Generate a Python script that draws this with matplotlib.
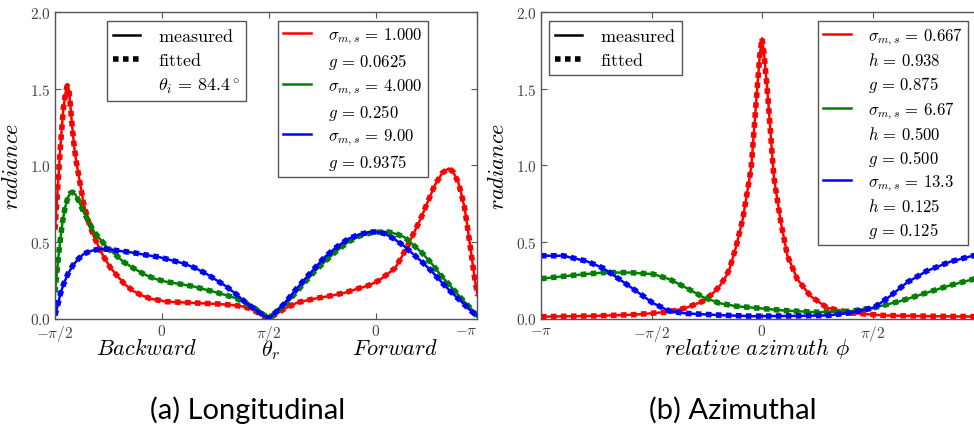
import numpy as np
import matplotlib
matplotlib.use("Agg")
import matplotlib.pyplot as plt
from matplotlib.lines import Line2D

plt.rcParams['mathtext.fontset'] = 'cm'
plt.rcParams['font.family'] = ['DejaVu Serif']

# ---------------- data (x in units of pi/2) ----------------
# Longitudinal: 0 -> -pi/2, 1 -> 0 (backward), 2 -> pi/2, 3 -> 0 (forward), 3.95 -> -pi
long_red_x = [0.00, 0.03, 0.05, 0.078, 0.10, 0.115, 0.13, 0.14, 0.16, 0.18, 0.20, 0.235, 0.265, 0.31, 0.36,
              0.45, 0.52, 0.58, 0.65, 0.73, 0.80, 0.89, 1.04, 1.20, 1.36, 1.52, 1.67, 1.76, 1.82, 1.88, 1.95,
              2.00, 2.08, 2.15, 2.27, 2.43, 2.59, 2.72, 2.83, 2.93, 3.02, 3.10, 3.18, 3.24, 3.30, 3.37, 3.43,
              3.49, 3.55, 3.62, 3.68, 3.72, 3.77, 3.80, 3.83, 3.86, 3.89, 3.92, 3.95]
long_red_y = [0.58, 0.90, 1.12, 1.37, 1.48, 1.52, 1.49, 1.42, 1.26, 1.12, 1.02, 0.88, 0.76, 0.64, 0.54,
              0.41, 0.33, 0.28, 0.225, 0.18, 0.155, 0.13, 0.11, 0.105, 0.10, 0.095, 0.087, 0.078, 0.065, 0.045, 0.015,
              0.00, 0.035, 0.065, 0.105, 0.13, 0.15, 0.17, 0.195, 0.215, 0.245, 0.285, 0.33, 0.40, 0.48, 0.58, 0.67,
              0.77, 0.87, 0.95, 0.98, 0.96, 0.89, 0.81, 0.72, 0.58, 0.43, 0.28, 0.15]

long_green_x = [0.00, 0.02, 0.047, 0.07, 0.093, 0.12, 0.145, 0.165, 0.19, 0.22, 0.265, 0.31, 0.36, 0.42, 0.48,
                0.56, 0.64, 0.73, 0.83, 0.93, 1.04, 1.17, 1.29, 1.40, 1.51, 1.61, 1.70, 1.78, 1.85, 1.92,
                2.00, 2.07, 2.15, 2.24, 2.34, 2.43, 2.52, 2.63, 2.74, 2.85, 2.96, 3.05, 3.12, 3.20, 3.27, 3.35,
                3.43, 3.52, 3.61, 3.70, 3.80, 3.88, 3.95]
long_green_y = [0.17, 0.32, 0.50, 0.63, 0.72, 0.79, 0.82, 0.825, 0.81, 0.77, 0.70, 0.64, 0.57, 0.52, 0.47,
                0.42, 0.37, 0.33, 0.29, 0.26, 0.24, 0.225, 0.21, 0.19, 0.17, 0.15, 0.13, 0.10, 0.075, 0.04,
                0.00, 0.04, 0.09, 0.16, 0.24, 0.31, 0.37, 0.44, 0.50, 0.54, 0.56, 0.565, 0.565, 0.55, 0.53, 0.48,
                0.43, 0.36, 0.28, 0.21, 0.13, 0.07, 0.01]

long_blue_x = [0.00, 0.03, 0.05, 0.078, 0.12, 0.17, 0.22, 0.265, 0.33, 0.39, 0.45, 0.51, 0.62, 0.73, 0.85,
               0.98, 1.09, 1.20, 1.31, 1.42, 1.51, 1.60, 1.70, 1.79, 1.87, 1.95,
               2.00, 2.07, 2.15, 2.24, 2.34, 2.43, 2.52, 2.63, 2.74, 2.85, 2.95, 3.02, 3.08, 3.17, 3.27, 3.35,
               3.43, 3.52, 3.61, 3.70, 3.80, 3.88, 3.95]
long_blue_y = [0.02, 0.10, 0.16, 0.22, 0.29, 0.35, 0.39, 0.42, 0.44, 0.45, 0.455, 0.45, 0.44, 0.43, 0.415,
               0.40, 0.38, 0.36, 0.33, 0.29, 0.25, 0.21, 0.155, 0.10, 0.06, 0.02,
               0.00, 0.045, 0.10, 0.18, 0.26, 0.33, 0.40, 0.465, 0.52, 0.55, 0.565, 0.565, 0.555, 0.52, 0.47, 0.42,
               0.37, 0.31, 0.24, 0.175, 0.11, 0.055, 0.015]

# Azimuthal: -2 -> -pi ... 2 -> pi
azi_red_x = [-2.0, -1.5, -1.135, -0.835, -0.685, -0.534, -0.45, -0.385, -0.33, -0.295, -0.234, -0.174, -0.114,
             -0.096, -0.05, -0.02, 0.0, 0.02, 0.054, 0.099, 0.11, 0.17, 0.23, 0.32, 0.44, 0.59, 0.80, 1.10, 1.5, 2.0]
azi_red_y = [0.012, 0.017, 0.026, 0.044, 0.07, 0.113, 0.16, 0.21, 0.27, 0.32, 0.47, 0.65, 0.91,
             1.0, 1.44, 1.72, 1.83, 1.72, 1.44, 1.0, 0.91, 0.63, 0.41, 0.256, 0.146, 0.07, 0.037, 0.02, 0.015, 0.012]

azi_green_x = [-2.0, -1.74, -1.44, -1.2, -0.985, -0.835, -0.685, -0.534, -0.385, -0.234, -0.07, 0.2, 0.5, 0.8,
               1.01, 1.25, 1.49, 1.70, 1.91, 2.0]
azi_green_y = [0.26, 0.28, 0.30, 0.30, 0.29, 0.256, 0.20, 0.14, 0.10, 0.08, 0.07, 0.052, 0.041, 0.048,
               0.07, 0.113, 0.168, 0.216, 0.256, 0.27]

azi_blue_x = [-2.0, -1.80, -1.59, -1.44, -1.29, -1.14, -0.985, -0.835, -0.685, -0.385, -0.084, 0.3, 0.6, 0.80,
              1.01, 1.16, 1.31, 1.49, 1.70, 1.91, 2.0]
azi_blue_y = [0.41, 0.41, 0.375, 0.33, 0.256, 0.18, 0.10, 0.048, 0.033, 0.022, 0.015, 0.017, 0.02, 0.037,
              0.07, 0.146, 0.234, 0.31, 0.37, 0.41, 0.42]

long_ticks = [0, 1, 2, 3, 3.95]
long_ticklabels = [r'$-\pi/2$', r'$0$', r'$\pi/2$', r'$0$', r'$-\pi$']
azi_ticks = [-2, -1, 0, 1, 2]
azi_ticklabels = [r'$-\pi$', r'$-\pi/2$', r'$0$', r'$\pi/2$', r'$\pi$']
y_ticks = [0.0, 0.5, 1.0, 1.5, 2.0]
y_ticklabels = [r'$0.0$', r'$0.5$', r'$1.0$', r'$1.5$', r'$2.0$']

long_labels = [r'$\sigma_{m,s}\,=\,1.000$', r'$g\,=\,0.0625$', r'$\sigma_{m,s}\,=\,4.000$', r'$g\,=\,0.250$',
               r'$\sigma_{m,s}\,=\,9.00$', r'$g\,=\,0.9375$']
azi_labels = [r'$\sigma_{m,s}\,=\,0.667$', r'$h\,=\,0.938$', r'$g\,=\,0.875$',
              r'$\sigma_{m,s}\,=\,6.67$', r'$h\,=\,0.500$', r'$g\,=\,0.500$',
              r'$\sigma_{m,s}\,=\,13.3$', r'$h\,=\,0.125$', r'$g\,=\,0.125$']

RED, GREEN, BLUE = '#ff0000', '#008000', '#0000ff'
EDGE = '#555555'
DOT = (0, (1.0, 0.8))

W, H = 974, 439
fig = plt.figure(figsize=(W / 100, H / 100), dpi=100)

def px_box(l, r, t, b):
    return [l / W, 1 - b / H, (r - l) / W, (b - t) / H]

ax1 = fig.add_axes(px_box(55, 477.5, 13.3, 319.5))
ax2 = fig.add_axes(px_box(541, 983, 13.3, 319.5))

hp = np.pi / 2
def draw(ax, x, y, c):
    xx = np.asarray(x) * hp
    ax.plot(xx, y, color=c, lw=4.0, linestyle=DOT, dash_capstyle='butt')
    ax.plot(xx, y, color=c, lw=1.8)

for x, y, c in [(long_red_x, long_red_y, RED), (long_green_x, long_green_y, GREEN), (long_blue_x, long_blue_y, BLUE)]:
    draw(ax1, x, y, c)
for x, y, c in [(azi_red_x, azi_red_y, RED), (azi_green_x, azi_green_y, GREEN), (azi_blue_x, azi_blue_y, BLUE)]:
    draw(ax2, x, y, c)

def style(ax, ticks, labels, xlim):
    ax.set_xlim(xlim[0] * hp, xlim[1] * hp)
    ax.set_ylim(0, 2.0)
    ax.set_xticks(np.asarray(ticks) * hp)
    ax.set_xticklabels(labels)
    ax.set_yticks(y_ticks)
    ax.set_yticklabels(y_ticklabels)
    ax.tick_params(direction='in', top=True, right=True, length=4, width=0.8, color=EDGE,
                   labelcolor='#444444', labelsize=11, pad=3)
    for s in ax.spines.values():
        s.set_color(EDGE)
        s.set_linewidth(1.0)
    ax.set_ylabel(r'$radiance$', fontsize=16, labelpad=5)

style(ax1, long_ticks, long_ticklabels, (0, 3.95))
style(ax2, azi_ticks, azi_ticklabels, (-2, 2))
ax1.get_xticklabels()[-1].set_ha('right')

# legends
meas = Line2D([], [], color='black', lw=1.8)
fitd = Line2D([], [], color='black', lw=4.0, linestyle=DOT)
blank = Line2D([], [], linestyle='none')
def col(c):
    return Line2D([], [], color=c, lw=1.8)

kw_a = dict(loc='upper left', borderaxespad=0, fancybox=False, framealpha=1, fontsize=13,
            handlelength=1.5, handletextpad=1.0, borderpad=0.33, labelspacing=0.36, edgecolor=EDGE)
kw_b = dict(loc='upper left', borderaxespad=0, fancybox=False, framealpha=1, fontsize=12,
            handlelength=1.65, handletextpad=1.05, borderpad=0.3, labelspacing=0.3, edgecolor=EDGE)

l1 = ax1.legend([meas, fitd, blank], [r'$\mathrm{measured}$', r'$\mathrm{fitted}$', r'$\theta_i\,=\,84.4^\circ$'],
                bbox_to_anchor=(0.123, 0.972), **kw_a)
ax1.add_artist(l1)
ax1.legend([col(RED), blank, col(GREEN), blank, col(BLUE), blank], long_labels,
           bbox_to_anchor=(0.528, 0.972), **kw_b)

l3 = ax2.legend([meas, fitd], [r'$\mathrm{measured}$', r'$\mathrm{fitted}$'],
                bbox_to_anchor=(0.018, 0.972), **kw_a)
ax2.add_artist(l3)
ax2.legend([col(RED), blank, blank, col(GREEN), blank, blank, col(BLUE), blank, blank], azi_labels,
           bbox_to_anchor=(0.627, 0.972), **kw_b)

# axis labels
ty = 1 - 349 / H
fig.text(146 / W, ty, r'$Backward$', fontsize=16, ha='center', va='center')
fig.text(271 / W, ty - 0.002, r'$\theta_r$', fontsize=16, ha='center', va='center')
fig.text(395 / W, ty, r'$Forward$', fontsize=16, ha='center', va='center')
fig.text(757 / W, ty, r'$relative\ azimuth\ \phi$', fontsize=16, ha='center', va='center')

# captions
fig.text(248 / W, 1 - 410 / H, '(a) Longitudinal', fontsize=21, family='Lato', ha='center', va='center')
fig.text(733 / W, 1 - 410 / H, '(b) Azimuthal', fontsize=21, family='Lato', ha='center', va='center')

fig.savefig('out.png', dpi=100)
